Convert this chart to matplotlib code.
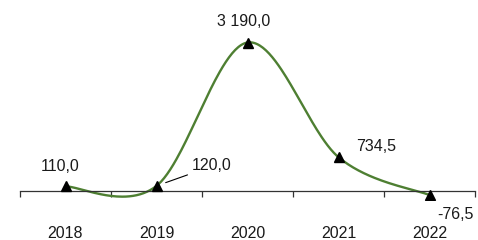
import numpy as np
import matplotlib
matplotlib.use("Agg")
import matplotlib.pyplot as plt

years = ["2018", "2019", "2020", "2021", "2022"]
values = [110.0, 120.0, 3190.0, 734.5, -76.5]
labels = ["110,0", "120,0", "3 190,0", "734,5", "-76,5"]

plt.rcParams['font.family'] = ['Liberation Sans', 'DejaVu Sans']

W, H = 478, 240
fig = plt.figure(figsize=(W / 100, H / 100), dpi=100)
ax_left, ax_right = 20, 475
ax_top, ax_bottom = 10, 200
ax = fig.add_axes([ax_left / W, 1 - ax_bottom / H, (ax_right - ax_left) / W, (ax_bottom - ax_top) / H])

x = np.arange(len(values), dtype=float)
y = np.array(values)

# Catmull-Rom style smoothed curve (as in spreadsheet smoothed lines)
pts = np.column_stack([x, y])
curve = []
n = len(pts)
for i in range(n - 1):
    p0 = pts[i - 1] if i > 0 else pts[i]
    p1 = pts[i]
    p2 = pts[i + 1]
    p3 = pts[i + 2] if i + 2 < n else pts[i + 1]
    c1 = p1 + (p2 - p0) / 6
    c2 = p2 - (p3 - p1) / 6
    t = np.linspace(0, 1, 60)[:, None]
    seg = (1 - t) ** 3 * p1 + 3 * (1 - t) ** 2 * t * c1 + 3 * (1 - t) * t ** 2 * c2 + t ** 3 * p2
    curve.append(seg if i == 0 else seg[1:])
curve = np.vstack(curve)

ax.plot(curve[:, 0], curve[:, 1], color='#4E7F32', lw=1.7, zorder=2)
ax.plot(x, y, linestyle='none', marker='^', color='black', markersize=6.5, zorder=3)

ax.set_xlim(-0.5, len(values) - 0.5)
ax.set_ylim(-182, 3886)

for s in ['top', 'right', 'left']:
    ax.spines[s].set_visible(False)
ax.spines['bottom'].set_position(('data', 0))
ax.spines['bottom'].set_color('#333333')
ax.spines['bottom'].set_linewidth(0.9)
ax.set_yticks([])
ax.set_xticks(x)
ax.set_xticklabels(years, fontsize=11.5, color='#1a1a1a')
ax.set_xticks(np.arange(-0.5, len(values), 1.0), minor=True)
ax.tick_params(axis='x', which='major', length=0, pad=25)
ax.tick_params(axis='x', which='minor', length=4, width=0.9, color='#333333', direction='out')

# label offsets in pixels (dx, dy up)
offs = [(-5, 20), (55, 20), (-4, 21), (38, 11), (26, -19)]
k = 0.72
for i, (lab, (dx, dy)) in enumerate(zip(labels, offs)):
    ax.annotate(lab, (x[i], y[i]), xytext=(dx * k, dy * k), textcoords='offset points',
                ha='center', va='center', fontsize=11.5, color='#1a1a1a')

# leader line for 2019 label
ax.annotate('', xy=(x[1], y[1]), xytext=(31 * k, 11 * k), textcoords='offset points',
            arrowprops=dict(arrowstyle='-', color='black', lw=0.8, shrinkA=0, shrinkB=7,
                            relpos=(0, 0)))

fig.savefig('out.png', dpi=100)
